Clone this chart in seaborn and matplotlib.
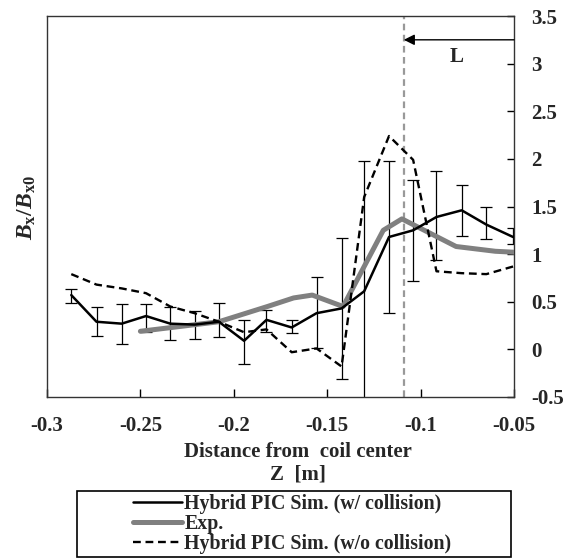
import numpy as np
import pandas as pd
import matplotlib
matplotlib.use("Agg")
import matplotlib.pyplot as plt
from matplotlib.patches import Rectangle
import seaborn as sns

# ---------------- data ----------------
sim_z = [-0.287, -0.2735, -0.260, -0.247, -0.234, -0.221, -0.208, -0.1945, -0.1825,
         -0.169, -0.1557, -0.1423, -0.1302, -0.1169, -0.104, -0.0915, -0.078, -0.0648, -0.0505]
coll_v = [0.57, 0.29, 0.27, 0.35, 0.27, 0.26, 0.29, 0.09, 0.31, 0.23, 0.38, 0.43,
          0.61, 1.18, 1.25, 1.39, 1.46, 1.31, 1.18]
coll_lo = [0.485, 0.14, 0.06, 0.18, 0.10, 0.11, 0.13, -0.15, 0.18, 0.17, 0.01, -0.31,
           -0.70, 0.38, 0.72, 0.94, 1.19, 1.16, 1.11]
coll_hi = [0.63, 0.44, 0.48, 0.48, 0.44, 0.40, 0.49, 0.31, 0.41, 0.31, 0.76, 1.17,
           1.98, 1.98, 1.78, 1.87, 1.73, 1.49, 1.27]
nocoll_v = [0.79, 0.68, 0.64, 0.59, 0.45, 0.38, 0.29, 0.18, 0.21, -0.03, 0.01, -0.18,
            1.60, 2.24, 1.99, 0.82, 0.80, 0.79, 0.87]
exp_z = [-0.250, -0.208, -0.182, -0.168, -0.158, -0.1415, -0.120, -0.110, -0.081, -0.060, -0.050]
exp_v = [0.19, 0.29, 0.45, 0.54, 0.57, 0.45, 1.25, 1.37, 1.08, 1.03, 1.02]
L_pos = -0.109
x_ticks = [-0.3, -0.25, -0.2, -0.15, -0.1, -0.05]
y_ticks = [-0.5, 0, 0.5, 1, 1.5, 2, 2.5, 3, 3.5]
labels = ["Hybrid PIC Sim. (w/ collision)", "Exp.", "Hybrid PIC Sim. (w/o collision)"]

# ---------------- style ----------------
sns.set_theme(style="white")
plt.rcParams['font.family'] = ['Liberation Serif', 'DejaVu Serif']
plt.rcParams['font.weight'] = 'bold'
plt.rcParams['mathtext.fontset'] = 'custom'
plt.rcParams['mathtext.rm'] = 'Liberation Serif:bold'
plt.rcParams['mathtext.it'] = 'Liberation Serif:italic:bold'
plt.rcParams['mathtext.bf'] = 'Liberation Serif:bold'

fig = plt.figure(figsize=(5.67, 5.58), dpi=100)
ax = fig.add_axes([47/567, 1-397/558, 467/567, 381/558])

# error bars
err_lo = np.array(coll_v) - np.array(coll_lo)
err_hi = np.array(coll_hi) - np.array(coll_v)
ax.errorbar(sim_z, coll_v, yerr=[err_lo, err_hi], fmt='none', ecolor='black',
            elinewidth=0.9, capsize=4, capthick=0.9, zorder=2)

sns.lineplot(x=sim_z, y=coll_v, ax=ax, color='black', lw=1.8, sort=False,
             estimator=None, label=labels[0], zorder=4)
sns.lineplot(x=exp_z, y=exp_v, ax=ax, color='#808080', lw=3.6, sort=False,
             estimator=None, label=labels[1], zorder=3)
sns.lineplot(x=sim_z, y=nocoll_v, ax=ax, color='black', lw=1.7, sort=False,
             estimator=None, label=labels[2], zorder=3, linestyle=(0, (3.3, 2.0)))

ax.axvline(L_pos, color='#999999', lw=1.6, linestyle=(0, (3, 2)), zorder=1)
ax.annotate('', xy=(L_pos, 3.25), xytext=(-0.05, 3.25),
            arrowprops=dict(arrowstyle='-|>', color='black', lw=1, mutation_scale=16,
                            shrinkA=0, shrinkB=0))
ax.text(-0.0808, 3.07, 'L', fontsize=15, fontweight='bold', ha='center', va='center')

ax.set_xlim(-0.3, -0.05)
ax.set_ylim(-0.5, 3.5)
ax.set_xticks(x_ticks)
ax.set_xticklabels([f"{t:g}" for t in x_ticks])
ax.yaxis.tick_right()
ax.set_yticks(y_ticks)
ax.set_yticklabels([f"{t:g}" for t in y_ticks])
ax.tick_params(axis='x', direction='in', length=6, width=1, color='black',
               labelsize=15, pad=13.5, bottom=True, top=False)
ax.tick_params(axis='y', direction='in', length=5, width=1, color='black',
               labelsize=15, pad=12.5, right=True, left=False)
for lab in ax.get_xticklabels() + ax.get_yticklabels():
    lab.set_fontweight('bold')
for s in ax.spines.values():
    s.set_color('#333333')
    s.set_linewidth(1.0)

ax.set_xlabel('')
ax.set_ylabel('')
fig.text(27/567, 1-207/558, r'$B_{\mathrm{x}}/B_{\mathrm{x0}}$', rotation=90,
         fontsize=17, ha='center', va='center')
fig.text(298/567, 1-463/558, 'Distance from  coil center\nZ  [m]', fontsize=15,
         fontweight='bold', ha='center', va='center', linespacing=1.15)

# legend with custom frame
handles, labs = ax.get_legend_handles_labels()
if ax.get_legend() is not None:
    ax.get_legend().remove()
fig.patches.append(Rectangle((77/567, 1-557/558), 434/567, 66/558,
                             transform=fig.transFigure, fill=False,
                             edgecolor='black', lw=1.2))
leg = fig.legend(handles, labs, loc='center', bbox_to_anchor=(292/567, 1-524/558),
                 bbox_transform=fig.transFigure, frameon=False,
                 handlelength=2.5, handletextpad=0.1, labelspacing=0.02,
                 borderpad=0, prop={'weight': 'bold', 'size': 14.3})

fig.savefig('out.png', dpi=100)
